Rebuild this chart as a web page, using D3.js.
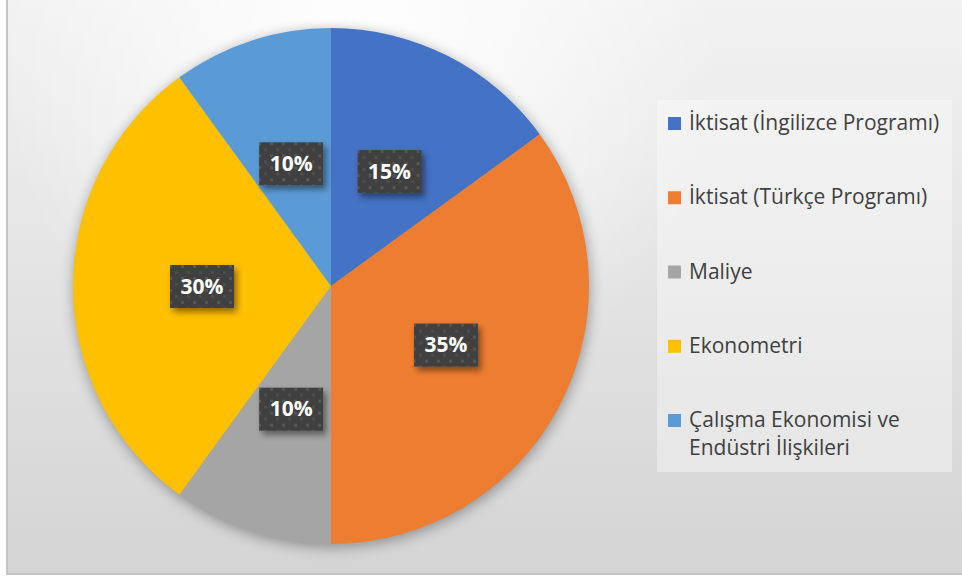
<!DOCTYPE html>
<html>
<head>
<meta charset="utf-8">
<script src="https://cdn.jsdelivr.net/npm/d3@7"></script>
<style>
  html, body { margin: 0; padding: 0; background: #fff; }
  svg { display: block; }
</style>
</head>
<body>
<div id="chart"></div>
<script>
const width = 962;
const height = 578;

const categories = [
  "İktisat (İngilizce Programı)",
  "İktisat (Türkçe Programı)",
  "Maliye",
  "Ekonometri",
  "Çalışma Ekonomisi ve Endüstri İlişkileri"
];
const shares = [15, 35, 10, 30, 10];
const sliceColors = ["#4472C4", "#ED7D31", "#A5A5A5", "#FFC000", "#5B9BD5"];

const cx = 331;
const cy = 286;
const radius = 258;

const svg = d3.select("#chart")
  .append("svg")
  .attr("width", width)
  .attr("height", height);

const defs = svg.append("defs");

// background: light at the top, grey toward the bottom
const bgLin = defs.append("linearGradient")
  .attr("id", "bgLin")
  .attr("x1", 0).attr("y1", 0).attr("x2", 0).attr("y2", 1);
bgLin.append("stop").attr("offset", "0%").attr("stop-color", "#f2f2f2");
bgLin.append("stop").attr("offset", "100%").attr("stop-color", "#d4d4d4");

const bgRad = defs.append("radialGradient")
  .attr("id", "bgRad")
  .attr("gradientUnits", "userSpaceOnUse")
  .attr("cx", 360).attr("cy", 60).attr("r", 360);
bgRad.append("stop").attr("offset", "0%").attr("stop-color", "#fff").attr("stop-opacity", 1);
bgRad.append("stop").attr("offset", "100%").attr("stop-color", "#fff").attr("stop-opacity", 0);

const pieShadow = defs.append("filter")
  .attr("id", "pieShadow")
  .attr("x", "-20%").attr("y", "-20%").attr("width", "140%").attr("height", "140%");
pieShadow.append("feGaussianBlur").attr("stdDeviation", 7);

const boxShadow = defs.append("filter")
  .attr("id", "boxShadow")
  .attr("x", "-30%").attr("y", "-30%").attr("width", "160%").attr("height", "160%");
boxShadow.append("feDropShadow")
  .attr("dx", 3).attr("dy", 4)
  .attr("stdDeviation", 3)
  .attr("flood-color", "#000")
  .attr("flood-opacity", 0.45);

const dots = defs.append("pattern")
  .attr("id", "dots")
  .attr("patternUnits", "userSpaceOnUse")
  .attr("width", 12).attr("height", 12);
dots.append("rect").attr("width", 12).attr("height", 12).attr("fill", "#404040");
dots.append("rect").attr("x", 3).attr("y", 3).attr("width", 3).attr("height", 3).attr("fill", "#575757");
dots.append("rect").attr("x", 9).attr("y", 9).attr("width", 3).attr("height", 3).attr("fill", "#4e4e4e");

// chart area
svg.append("rect")
  .attr("x", 0).attr("y", 0)
  .attr("width", width).attr("height", height)
  .attr("fill", "#fff");
svg.append("rect")
  .attr("x", 7).attr("y", -2)
  .attr("width", width + 10).attr("height", 576)
  .attr("fill", "url(#bgLin)")
  .attr("stroke", "#c4c4c4")
  .attr("stroke-width", 2);
svg.append("rect")
  .attr("x", 8).attr("y", 0)
  .attr("width", width - 8).attr("height", 573)
  .attr("fill", "url(#bgRad)");

// pie
const pie = d3.pie()
  .value(d => d.value)
  .sort(null);

const arc = d3.arc()
  .innerRadius(0)
  .outerRadius(radius);

const labelArc = d3.arc()
  .innerRadius(radius * 0.5)
  .outerRadius(radius * 0.5);

const pieData = pie(categories.map((c, i) => ({ key: c, value: shares[i], color: sliceColors[i] })));
const total = d3.sum(shares);

const g = svg.append("g")
  .attr("transform", `translate(${cx},${cy})`);

g.append("circle")
  .attr("cx", 1).attr("cy", 3)
  .attr("r", radius)
  .attr("fill", "#000")
  .attr("opacity", 0.35)
  .attr("filter", "url(#pieShadow)");

g.selectAll("path.slice")
  .data(pieData)
  .enter()
  .append("path")
  .attr("class", "slice")
  .attr("d", arc)
  .attr("fill", d => d.data.color);

const labels = g.selectAll("g.label")
  .data(pieData)
  .enter()
  .append("g")
  .attr("class", "label")
  .attr("transform", d => `translate(${labelArc.centroid(d)})`);

labels.append("rect")
  .attr("x", -32).attr("y", -21)
  .attr("width", 64).attr("height", 43)
  .attr("fill", "url(#dots)")
  .attr("filter", "url(#boxShadow)");

labels.append("text")
  .attr("text-anchor", "middle")
  .attr("dy", "0.36em")
  .attr("fill", "#fff")
  .style("font-family", "'Open Sans', 'Noto Sans', sans-serif")
  .style("font-weight", "bold")
  .style("font-size", "21px")
  .text(d => Math.round(d.data.value / total * 100) + "%");

// legend
const legend = svg.append("g");

legend.append("rect")
  .attr("x", 657).attr("y", 100)
  .attr("width", 295).attr("height", 372)
  .attr("fill", "#fff")
  .attr("opacity", 0.35);

const legendY = d3.scaleLinear()
  .domain([0, categories.length - 1])
  .range([130, 427]);

const items = legend.selectAll("g.legend-item")
  .data(pieData)
  .enter()
  .append("g")
  .attr("class", "legend-item")
  .attr("transform", (d, i) => `translate(668,${legendY(i)})`);

items.append("rect")
  .attr("x", 0).attr("y", -13)
  .attr("width", 13).attr("height", 13)
  .attr("fill", d => d.data.color);

const legendText = items.append("text")
  .attr("x", 21)
  .attr("y", 0)
  .attr("fill", "#404040")
  .style("font-family", "'Open Sans', 'Noto Sans', sans-serif")
  .style("font-size", "21px");

// wrap long names to the width of the legend box
legendText.each(function (d) {
  const text = d3.select(this);
  const words = d.data.key.split(" ");
  let line = [];
  let tspan = text.append("tspan").attr("x", 21).attr("dy", 0);
  words.forEach(w => {
    line.push(w);
    tspan.text(line.join(" "));
    if (tspan.node().getComputedTextLength() > 262 && line.length > 1) {
      line.pop();
      tspan.text(line.join(" "));
      line = [w];
      tspan = text.append("tspan").attr("x", 21).attr("dy", 28).text(w);
    }
  });
});
</script>
</body>
</html>
